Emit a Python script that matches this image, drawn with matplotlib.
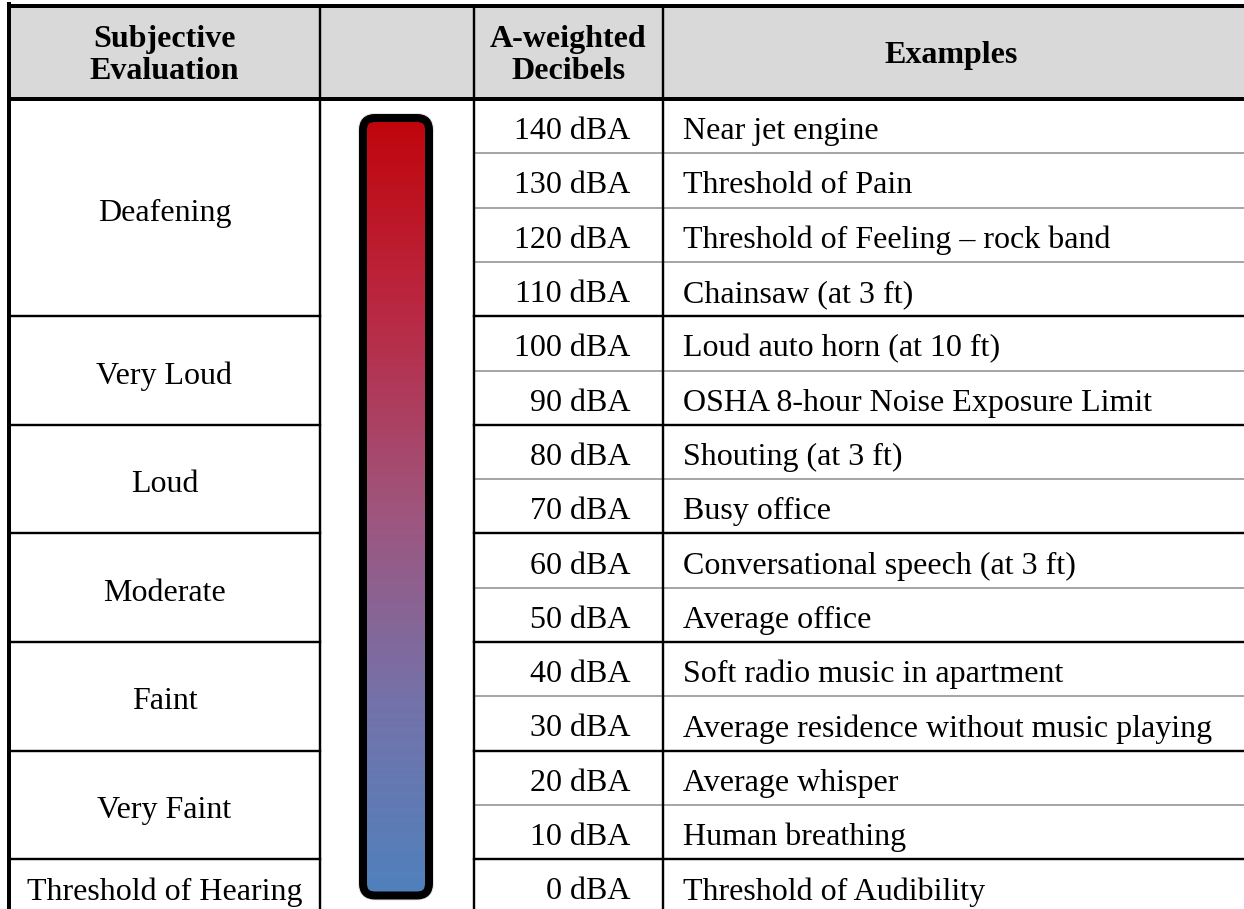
import numpy as np
import matplotlib.pyplot as plt
from matplotlib.patches import FancyBboxPatch, Rectangle

plt.rcParams['font.family'] = ['Liberation Serif', 'DejaVu Serif']

# table content
headers = ["Subjective\nEvaluation", "", "A-weighted\nDecibels", "Examples"]
groups = ["Deafening", "Very Loud", "Loud", "Moderate", "Faint", "Very Faint",
          "Threshold of Hearing"]
group_sizes = [4, 2, 2, 2, 2, 2, 1]
levels = [140, 130, 120, 110, 100, 90, 80, 70, 60, 50, 40, 30, 20, 10, 0]
examples = [
    "Near jet engine",
    "Threshold of Pain",
    "Threshold of Feeling \u2013 rock band",
    "Chainsaw (at 3 ft)",
    "Loud auto horn (at 10 ft)",
    "OSHA 8-hour Noise Exposure Limit",
    "Shouting (at 3 ft)",
    "Busy office",
    "Conversational speech (at 3 ft)",
    "Average office",
    "Soft radio music in apartment",
    "Average residence without music playing",
    "Average whisper",
    "Human breathing",
    "Threshold of Audibility",
]

# gradient stops for the loudness bar (top -> bottom)
grad_pos = [0.0, 0.25, 0.5, 0.75, 1.0]
grad_rgb = [(192, 4, 10), (186, 40, 66), (160, 84, 124), (116, 114, 170), (79, 129, 189)]

W, H = 1244, 909
fig = plt.figure(figsize=(W / 100, H / 100), dpi=100)
ax = fig.add_axes([0, 0, 1, 1])

def px(v):
    return v * 72 / 100

col_x = [9, 320, 474, 663, 1250]
top, head_bot, row_h = 6, 99, 54.3
n = len(levels)
table_bot = head_bot + n * row_h
fs = 23

# header fill
ax.add_patch(Rectangle((col_x[0], top), col_x[-1] - col_x[0], head_bot - top,
                       facecolor='#D9D9D9', edgecolor='none', zorder=0))

# horizontal row lines
bounds = np.cumsum(group_sizes)
for i in range(1, n):
    y = head_bot + i * row_h
    is_group = i in bounds
    if is_group:
        ax.plot([col_x[0], col_x[1]], [y, y], color='black', lw=px(2.4), zorder=2)
    ax.plot([col_x[2], col_x[-1]], [y, y], color='black' if is_group else '#A6A6A6',
            lw=px(2.4) if is_group else px(2.0), zorder=2 if is_group else 1)

# vertical lines
for x in col_x[1:-1]:
    ax.plot([x, x], [top, table_bot + 20], color='black', lw=px(2.4), zorder=3)
ax.plot([col_x[0], col_x[0]], [top - 2, table_bot + 20], color='black', lw=px(4), zorder=4)
ax.plot([col_x[0], col_x[-1]], [top, top], color='black', lw=px(4), zorder=4)
ax.plot([col_x[0], col_x[-1]], [head_bot, head_bot], color='black', lw=px(4), zorder=4)

# header text
for j, h in enumerate(headers):
    if h:
        ax.text((col_x[j] + col_x[j + 1]) / 2 if j < 3 else (col_x[3] + 1240) / 2,
                (top + head_bot) / 2 + 3, h, ha='center', va='center', fontsize=fs,
                fontweight='bold', linespacing=1.15, zorder=5)

# group labels
start = 0
for g, s in zip(groups, group_sizes):
    yc = head_bot + (start + s / 2) * row_h + 2
    ax.text((col_x[0] + col_x[1]) / 2, yc, g, ha='center', va='center_baseline',
            fontsize=fs, zorder=5)
    start += s

# levels and examples
for i, (lv, ex) in enumerate(zip(levels, examples)):
    yc = head_bot + (i + 0.5) * row_h + 2
    ax.text(630, yc, f"{lv} dBA", ha='right', va='center_baseline', fontsize=fs, zorder=5)
    ax.text(683, yc, ex, ha='left', va='center_baseline', fontsize=fs, zorder=5)

# gradient bar
bx0, bx1 = 359, 433
by0, by1 = head_bot + 15, table_bot - 14
inset, rad = 4, 12
t = np.linspace(0, 1, 256)
grad = np.stack([np.interp(t, grad_pos, [c[k] for c in grad_rgb]) for k in range(3)], axis=-1) / 255
grad = grad[:, None, :]
halo = FancyBboxPatch((bx0 + inset, by0 + inset), bx1 - bx0 - 2 * inset, by1 - by0 - 2 * inset,
                      boxstyle=f"round,pad=0,rounding_size={rad}", facecolor='none',
                      edgecolor='#E4E4E4', lw=px(10), zorder=5)
ax.add_patch(halo)
frame = FancyBboxPatch((bx0 + inset, by0 + inset), bx1 - bx0 - 2 * inset, by1 - by0 - 2 * inset,
                       boxstyle=f"round,pad=0,rounding_size={rad}", facecolor='none',
                       edgecolor='black', lw=px(8), zorder=7)
ax.add_patch(frame)
im = ax.imshow(grad, extent=(bx0, bx1, by1, by0), origin='upper', aspect='auto', zorder=6)
im.set_clip_path(frame)

ax.set_xlim(0, W)
ax.set_ylim(H, 0)
ax.axis('off')

fig.savefig('out.png', dpi=100, facecolor='white')
